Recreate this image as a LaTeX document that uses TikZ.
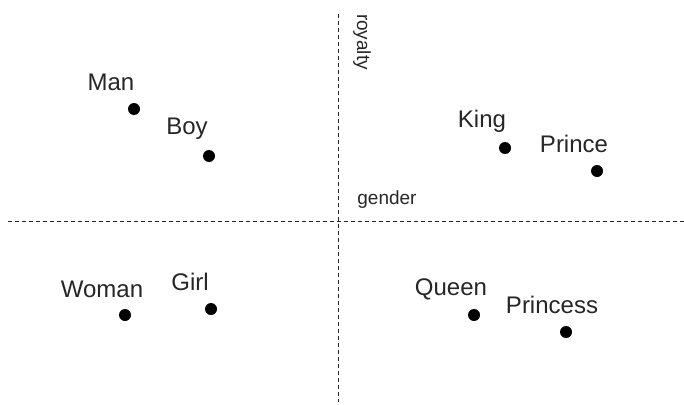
\documentclass[tikz,border=0pt]{standalone}
\usepackage{fontspec}
\setmainfont{Liberation Sans}
\begin{document}
\begin{tikzpicture}[x=1pt,y=-1pt,
  axis/.style={draw=black!85,line width=1pt,dash pattern=on 4pt off 3pt},
  dot/.style={circle,fill=black,inner sep=0pt,minimum size=12pt},
  word/.style={font=\fontsize{24}{27}\selectfont,inner sep=0pt,text=black!85},
  axlabel/.style={font=\fontsize{19}{22}\selectfont,inner sep=0pt,text=black!85}]
\useasboundingbox (0,0) rectangle (684,404);
% axes
\coordinate (hl) at (8,221);
\coordinate (hr) at (684,221);
\coordinate (vt) at (338,14);
\coordinate (vb) at (338,402);
\draw[axis] (hl) -- (hr);
\draw[axis] (vt) -- (vb);
\node[axlabel] (gender) at (387,200) {gender};
\node[axlabel,rotate=-90] (royalty) at (362,42) {royalty};
% points
\node[dot] (man) at (134,109) {};
\node[dot] (boy) at (209,156) {};
\node[dot] (king) at (505,148) {};
\node[dot] (prince) at (597,171) {};
\node[dot] (woman) at (125,315) {};
\node[dot] (girl) at (211,309) {};
\node[dot] (queen) at (474,315) {};
\node[dot] (princess) at (566,332) {};
% labels
\node[word] (lman) at (111,82) {Man};
\node[word] (lboy) at (187,129) {Boy};
\node[word] (lking) at (482,121) {King};
\node[word] (lprince) at (574,144) {Prince};
\node[word] (lwoman) at (102,289) {Woman};
\node[word] (lgirl) at (190,282) {Girl};
\node[word] (lqueen) at (451,289) {Queen};
\node[word] (lprincess) at (552,305) {Princess};
\end{tikzpicture}
\end{document}
